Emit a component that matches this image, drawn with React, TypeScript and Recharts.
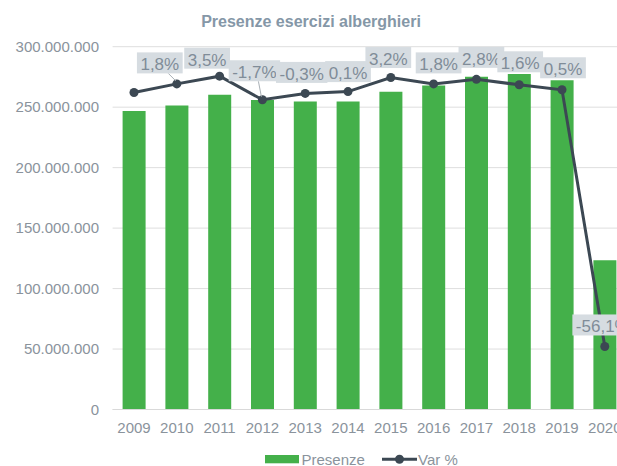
import React from 'react';
import { ComposedChart, Bar, Line, XAxis, YAxis, CartesianGrid, LabelList } from 'recharts';

// ---- data ----
const years = ['2009', '2010', '2011', '2012', '2013', '2014', '2015', '2016', '2017', '2018', '2019', '2020'];
const presenze = [
  246800000, 251400000, 260200000, 255900000, 254600000, 254700000,
  262800000, 268000000, 275200000, 277500000, 272300000, 123500000,
];
const varPct = [-0.1, 1.8, 3.5, -1.7, -0.3, 0.1, 3.2, 1.8, 2.8, 1.6, 0.5, -56.1];
const varLabels = [null, '1,8%', '3,5%', '-1,7%', '-0,3%', '0,1%', '3,2%', '1,8%', '2,8%', '1,6%', '0,5%', '-56,1%'];
const yTicks = [0, 50000000, 100000000, 150000000, 200000000, 250000000, 300000000];
const varDomain = [-70, 10];
const legendItems = ['Presenze', 'Var %'];

const chartData = years.map((y, i) => ({ year: y, presenze: presenze[i], varPct: varPct[i] }));

// ---- layout / style ----
const FONT = '"Liberation Sans", Arial, sans-serif';
const GREEN = '#44b04a';
const SLATE = '#3c4853';
const AXIS_TEXT = '#8a939c';
const LABEL_BG = '#d6dce1';
const LABEL_TEXT = '#808c98';

// label box nudges relative to each point: [dx, dy, leader line]
const LABEL_NUDGE: [number, number, boolean][] = [
  [0, -21, false],
  [-17, -21, true],
  [-12.5, -18, false],
  [-8, -29, true],
  [-3.5, -21, false],
  [0, -20, false],
  [-2.5, -20, false],
  [5, -21, false],
  [5, -22, false],
  [1, -23, false],
  [1, -22, false],
  [-2, -21.5, false],
];

const CHAR_W: Record<string, number> = { ',': 0.278, '%': 0.889, '-': 0.333 };
const textWidth = (s: string, size: number) =>
  s.split('').reduce((a, c) => a + (CHAR_W[c] ?? 0.556), 0) * size;

const fmtIt = (v: number) => String(Math.round(v)).replace(/\B(?=(\d{3})+(?!\d))/g, '.');

const renderLabel = (props: any) => {
  const { x, y, index } = props;
  const text = varLabels[index];
  if (!text || x == null || y == null) return null;
  const [dx, dy, leader] = LABEL_NUDGE[index];
  const w = textWidth(text, 17) + 7;
  const h = 21;
  const cx = x + dx;
  const cy = y + dy;
  return (
    <g key={`lbl-${index}`}>
      {leader && (
        <line x1={cx + (x - cx) * 0.5} y1={cy + h / 2} x2={x - 1} y2={y - 3} stroke="#a9b0b6" strokeWidth={1} />
      )}
      <rect x={cx - w / 2} y={cy - h / 2} width={w} height={h} fill={LABEL_BG} />
      <text x={cx} y={cy + 2} textAnchor="middle" dominantBaseline="central" fontSize={17} fill={LABEL_TEXT} fontFamily={FONT}>
        {text}
      </text>
    </g>
  );
};

export default function App() {
  return (
    <div style={{ position: 'absolute', left: 0, top: 0, width: 617, height: 466, overflow: 'hidden', background: '#fff', fontFamily: FONT }}>
      <div style={{ position: 'absolute', left: 0, top: 0, width: 640, height: 466 }}>
        <ComposedChart width={640} height={466} data={chartData} margin={{ top: 46.7, right: 13.8, bottom: 26.5, left: 0 }}>
          <CartesianGrid vertical={false} stroke="#dedede" yAxisId="left" />
          <XAxis
            dataKey="year"
            height={30}
            tickSize={0}
            tickMargin={12.5}
            axisLine={{ stroke: '#d9d9d9' }}
            tickLine={false}
            tick={{ fontSize: 15, fill: AXIS_TEXT, fontFamily: FONT }}
            interval={0}
          />
          <YAxis
            yAxisId="left"
            width={112.6}
            domain={[0, 300000000]}
            ticks={yTicks}
            tickFormatter={fmtIt}
            axisLine={false}
            tickLine={false}
            tickSize={0}
            tickMargin={13.6}
            tick={{ fontSize: 15, fill: AXIS_TEXT, fontFamily: FONT }}
            interval={0}
          />
          <YAxis yAxisId="right" orientation="right" domain={varDomain} hide allowDataOverflow />
          <Bar yAxisId="left" dataKey="presenze" fill={GREEN} barSize={23} isAnimationActive={false} />
          <Line
            yAxisId="right"
            dataKey="varPct"
            stroke={SLATE}
            strokeWidth={3}
            dot={{ r: 4.5, fill: SLATE, stroke: SLATE, strokeWidth: 0 }}
            activeDot={false}
            isAnimationActive={false}
          >
            <LabelList dataKey="varPct" content={renderLabel} />
          </Line>
        </ComposedChart>
      </div>
      <div
        style={{
          position: 'absolute', left: 111, width: 400, top: 14, textAlign: 'center',
          fontSize: 16, lineHeight: '16px', fontWeight: 'bold', color: '#8597a7', fontFamily: FONT,
        }}
      >
        Presenze esercizi alberghieri
      </div>
      <svg style={{ position: 'absolute', left: 0, top: 430 }} width={617} height={36}>
        <rect x={265} y={25} width={34} height={8.3} fill={GREEN} />
        <text x={301.5} y={29.2} dominantBaseline="central" fontSize={15} fill={AXIS_TEXT} fontFamily={FONT}>{legendItems[0]}</text>
        <line x1={382} y1={29.2} x2={417} y2={29.2} stroke={SLATE} strokeWidth={3} />
        <circle cx={399.5} cy={29.2} r={4.5} fill={SLATE} />
        <text x={418} y={29.2} dominantBaseline="central" fontSize={15} fill={AXIS_TEXT} fontFamily={FONT}>{legendItems[1]}</text>
      </svg>
    </div>
  );
}
